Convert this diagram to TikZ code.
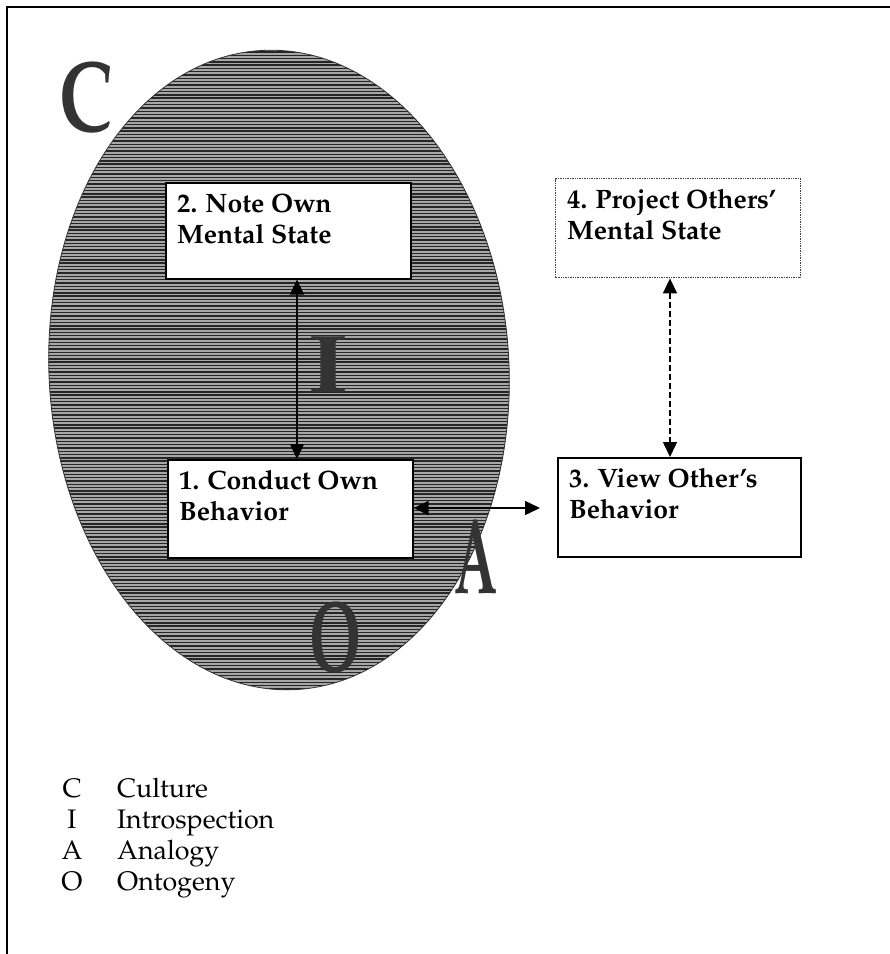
\documentclass[tikz,border=0pt]{standalone}
\usepackage[T1]{fontenc}
\renewcommand{\rmdefault}{ppl}
\usepackage{graphicx}
\usetikzlibrary{arrows.meta}
\newcommand{\mkletter}[3]{\resizebox{#1pt}{#2pt}{\bfseries #3}}
\tikzset{
  boxnode/.style={draw=black, line width=1.6pt, fill=white, inner sep=0pt, anchor=north west},
  dotbox/.style={draw=black!75, densely dotted, line width=1.4pt, fill=white, inner sep=0pt, anchor=north west},
  boxtext/.style={anchor=base west, inner sep=0pt, font=\fontsize{26.6}{31}\selectfont\bfseries},
  legtext/.style={inner sep=0pt, font=\fontsize{26.8}{31}\selectfont},
  arr/.style={line width=1.5pt, {Triangle[length=15pt,width=14pt]}-{Triangle[length=15pt,width=14pt]}},
  letface/.style={inner sep=0pt, text=black!80},
}
\begin{document}
\begin{tikzpicture}[x=1pt,y=-1pt]
\useasboundingbox (0,0) rectangle (890,954);
% frame
\draw[line width=1.5pt] (7,954) -- (7,7) -- (890,7);
% hatched ellipse
\begin{scope}
  \clip[rotate around={3:(279,370)}] (279,370) ellipse [x radius=230, y radius=320];
  \fill[black!35] (30,30) rectangle (530,710);
  \foreach \yy in {42,45.3,...,705} \draw[black!85, line width=1.4pt] (30,\yy) -- (530,\yy);
\end{scope}
\draw[black!80, line width=0.8pt, rotate around={3:(279,370)}] (279,370) ellipse [x radius=230, y radius=320];
% big letters
\node[letface] (C) at (86,97) {\mkletter{53}{70}{C}};
\node[letface] (I) at (329,365) {\mkletter{42}{55}{I}};
\node[letface] (A) at (476,557) {\mkletter{43}{75}{A}};
\node[letface] (O) at (336,637) {\mkletter{52}{70}{O}};
% boxes
\node[boxnode, minimum width=245pt, minimum height=96pt] (n2) at (165,182) {};
\node[boxnode, minimum width=245pt, minimum height=98pt] (n1) at (167,459) {};
\node[boxnode, minimum width=243pt, minimum height=99pt] (n3) at (557,457) {};
\node[dotbox, minimum width=245pt, minimum height=99pt] (n4) at (555,178) {};
\node[boxtext] (t2) at (177,212) {\begin{tabular}[t]{@{}l@{}}2. Note Own\\Mental State\end{tabular}};
\node[boxtext] (t1) at (179,489) {\begin{tabular}[t]{@{}l@{}}1. Conduct Own\\Behavior\end{tabular}};
\node[boxtext] (t3) at (569,487) {\begin{tabular}[t]{@{}l@{}}3. View Other's\\Behavior\end{tabular}};
\node[boxtext] (t4) at (567,208) {\begin{tabular}[t]{@{}l@{}}4. Project Others'\\Mental State\end{tabular}};
% connectors
\coordinate (ax) at (297,0);
\coordinate (hy) at (0,508);
\coordinate (dx) at (670,0);
\draw[arr] (ax |- n2.south) -- (ax |- n1.north);
\draw[arr, shorten >=17pt] (n1.east |- hy) -- (n3.west |- hy);
\draw[arr, dash pattern=on 6pt off 3pt] (dx |- n4.south) -- (dx |- n3.north);
% legend
\node[legtext, anchor=base] (legl) at (72,797) {\begin{tabular}[t]{@{}c@{}}C\\I\\A\\O\end{tabular}};
\node[legtext, anchor=base west] (legw) at (117,797) {\begin{tabular}[t]{@{}l@{}}Culture\\Introspection\\Analogy\\Ontogeny\end{tabular}};
\end{tikzpicture}
\end{document}
